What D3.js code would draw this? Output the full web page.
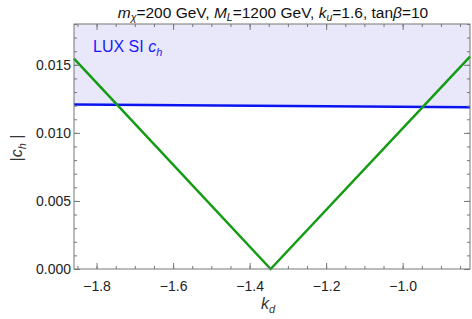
<!DOCTYPE html>
<html>
<head>
<meta charset="utf-8">
<script src="https://cdn.jsdelivr.net/npm/d3@7"></script>
<style>
  body { margin: 0; background: #fff; }
  text { font-family: "Liberation Sans", Arial, sans-serif; }
</style>
</head>
<body>
<script>
// chart values
var kdRange = [-1.859, -0.824];
var chRange = [0, 0.018];
var greenKd = [-1.859, -1.345, -0.824];
var greenCh = [0.01545, 0.0, 0.01560];
var luxKd = [-1.859, -0.824];
var luxCh = [0.01208, 0.01189];
var xTicks = [-1.8, -1.6, -1.4, -1.2, -1.0];
var yTicks = [0, 0.005, 0.010, 0.015];

var width = 472, height = 319;
var m = {left: 74, right: 2, top: 24, bottom: 50};

var svg = d3.select("body").append("svg")
    .attr("width", width)
    .attr("height", height);

var x = d3.scaleLinear().domain(kdRange).range([m.left, width - m.right]);
var y = d3.scaleLinear().domain(chRange).range([height - m.bottom, m.top]);

var plot = svg.append("g");

// shaded region above LUX limit
var lux = luxKd.map(function(d, i) { return {x: d, y: luxCh[i]}; });
plot.append("path")
    .datum(lux)
    .attr("fill", "#e8e8fa")
    .attr("d", d3.area()
      .x(function(d) { return x(d.x); })
      .y0(y(chRange[1]))
      .y1(function(d) { return y(d.y); }));

var line = d3.line()
    .x(function(d) { return x(d.x); })
    .y(function(d) { return y(d.y); });

plot.append("path")
    .datum(lux)
    .attr("fill", "none")
    .attr("stroke", "#0a14f0")
    .attr("stroke-width", 2.5)
    .attr("d", line);

var green = greenKd.map(function(d, i) { return {x: d, y: greenCh[i]}; });
plot.append("path")
    .datum(green)
    .attr("fill", "none")
    .attr("stroke", "#139c13")
    .attr("stroke-width", 2.5)
    .attr("d", line);

// frame with inward ticks
var axisCol = "#777";
var x0 = m.left, x1 = width - m.right, y0 = height - m.bottom, y1 = m.top;

var xMinor = d3.range(-1.85, -0.8, 0.05).filter(function(v) {
  return v >= kdRange[0] && v <= kdRange[1];
});
var yMinor = d3.range(0, 0.0181, 0.001);

function styleAxis(g) {
  g.select(".domain").remove();
  g.selectAll(".tick line").attr("stroke", axisCol);
  g.selectAll(".tick text").attr("fill", "#222").attr("font-size", 14);
}

// bottom
svg.append("g").attr("transform", "translate(0," + y0 + ")")
  .call(d3.axisBottom(x).tickValues(xMinor).tickSize(-3).tickFormat(""))
  .call(styleAxis);
svg.append("g").attr("transform", "translate(0," + y0 + ")")
  .call(d3.axisBottom(x).tickValues(xTicks).tickSize(-6).tickPadding(12)
        .tickFormat(d3.format(".1f")))
  .call(styleAxis);
// top
svg.append("g").attr("transform", "translate(0," + y1 + ")")
  .call(d3.axisTop(x).tickValues(xMinor).tickSize(-3).tickFormat(""))
  .call(styleAxis);
svg.append("g").attr("transform", "translate(0," + y1 + ")")
  .call(d3.axisTop(x).tickValues(xTicks).tickSize(-6).tickFormat(""))
  .call(styleAxis);
// left
svg.append("g").attr("transform", "translate(" + x0 + ",0)")
  .call(d3.axisLeft(y).tickValues(yMinor).tickSize(-3).tickFormat(""))
  .call(styleAxis);
svg.append("g").attr("transform", "translate(" + x0 + ",0)")
  .call(d3.axisLeft(y).tickValues(yTicks).tickSize(-6).tickPadding(3)
        .tickFormat(d3.format(".3f")))
  .call(styleAxis);
// right
svg.append("g").attr("transform", "translate(" + x1 + ",0)")
  .call(d3.axisRight(y).tickValues(yMinor).tickSize(-3).tickFormat(""))
  .call(styleAxis);
svg.append("g").attr("transform", "translate(" + x1 + ",0)")
  .call(d3.axisRight(y).tickValues(yTicks).tickSize(-6).tickFormat(""))
  .call(styleAxis);

svg.append("rect")
    .attr("x", x0).attr("y", y1)
    .attr("width", x1 - x0).attr("height", y0 - y1)
    .attr("fill", "none")
    .attr("stroke", axisCol)
    .attr("stroke-width", 1);

// title
var title = svg.append("text")
    .attr("x", 273).attr("y", 18)
    .attr("text-anchor", "middle")
    .attr("font-size", 15.5)
    .attr("fill", "#111");
title.append("tspan").attr("font-style", "italic").text("m");
title.append("tspan").attr("font-style", "italic").attr("font-size", 10.5).attr("dy", 3).text("χ");
title.append("tspan").attr("dy", -3).text("=200 GeV, ");
title.append("tspan").attr("font-style", "italic").text("M");
title.append("tspan").attr("font-style", "italic").attr("font-size", 10.5).attr("dy", 3).text("L");
title.append("tspan").attr("dy", -3).text("=1200 GeV, ");
title.append("tspan").attr("font-style", "italic").text("k");
title.append("tspan").attr("font-style", "italic").attr("font-size", 10.5).attr("dy", 3).text("u");
title.append("tspan").attr("dy", -3).text("=1.6, tan");
title.append("tspan").attr("font-style", "italic").text("β");
title.append("tspan").text("=10");

// legend label
var lab = svg.append("text")
    .attr("x", 93).attr("y", 52)
    .attr("font-size", 16)
    .attr("fill", "#1a1aff");
lab.append("tspan").text("LUX SI ");
lab.append("tspan").attr("font-style", "italic").text("c");
lab.append("tspan").attr("font-style", "italic").attr("font-size", 11).attr("dy", 4).text("h");

// axis labels
var xl = svg.append("text")
    .attr("x", 268).attr("y", 309)
    .attr("text-anchor", "middle")
    .attr("font-size", 16)
    .attr("fill", "#333");
xl.append("tspan").attr("font-style", "italic").text("k");
xl.append("tspan").attr("font-style", "italic").attr("font-size", 11).attr("dy", 4).text("d");

var yl = svg.append("text")
    .attr("transform", "translate(22,148) rotate(-90)")
    .attr("text-anchor", "middle")
    .attr("font-size", 16)
    .attr("fill", "#333");
yl.append("tspan").text("|");
yl.append("tspan").attr("font-style", "italic").text("c");
yl.append("tspan").attr("font-style", "italic").attr("font-size", 11).attr("dy", 4).text("h");
yl.append("tspan").attr("dy", -4).text(" |");
</script>
</body>
</html>
